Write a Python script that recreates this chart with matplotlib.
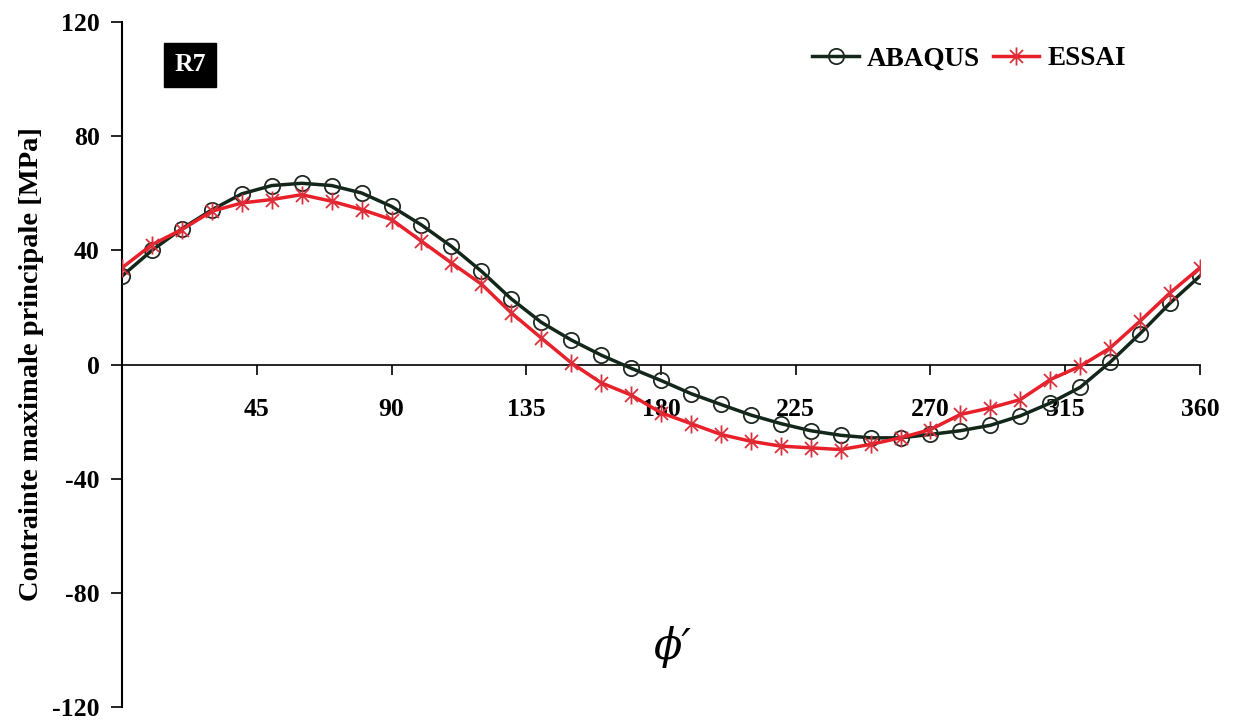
import matplotlib.pyplot as plt
import numpy as np
from matplotlib.path import Path

plt.rcParams['font.family'] = ['Liberation Serif', 'DejaVu Serif']
plt.rcParams['font.weight'] = 'bold'
plt.rcParams['mathtext.fontset'] = 'stix'
plt.rcParams['axes.unicode_minus'] = False

# angle phi' (degrees)
phi = np.arange(0, 361, 10)

# ABAQUS
abaqus = [31.0, 40.0, 47.6, 54.2, 59.8, 62.7, 63.5, 62.7, 60.1, 55.4,
          48.9, 41.4, 32.7, 23.0, 14.8, 8.6, 3.3, -1.3, -5.6, -10.2,
          -14.0, -17.7, -20.7, -23.2, -24.8, -25.7, -25.7, -24.5, -23.2, -21.3,
          -18.0, -13.5, -8.0, 0.8, 10.8, 21.5, 31.0]
# ESSAI
essai = [33.9, 42.0, 47.3, 53.7, 56.6, 57.8, 59.5, 57.2, 54.3, 50.8,
         43.2, 35.6, 28.2, 18.1, 9.3, 0.6, -6.4, -10.7, -16.9, -20.7,
         -24.5, -26.9, -28.6, -29.2, -29.8, -28.0, -25.7, -22.8, -17.5, -15.2,
         -12.3, -5.3, -0.6, 5.8, 15.2, 25.1, 33.9]

xticks = [45, 90, 135, 180, 225, 270, 315, 360]
yticks = [-120, -80, -40, 0, 40, 80, 120]

# asterisk marker like Excel's star (vertical bar + X)
star = Path([(0, -1), (0, 1), (-0.72, -0.72), (0.72, 0.72), (-0.72, 0.72), (0.72, -0.72)],
            [Path.MOVETO, Path.LINETO, Path.MOVETO, Path.LINETO, Path.MOVETO, Path.LINETO])

fig = plt.figure(figsize=(12.34, 7.22), dpi=100)
ax = fig.add_axes([0.0989, 0.0208, 0.8735, 0.9487])

ax.plot(phi, abaqus, color='#13261a', lw=2.5, marker='o', ms=11, mfc='none',
        mec='#1f2a22', mew=1.3, label='ABAQUS', zorder=3)
ax.plot(phi, essai, color='#e8202a', lw=2.5, marker=star, ms=13, mfc='none',
        mec='#d9303c', mew=1.3, label='ESSAI', zorder=4)

ax.set_xlim(0, 360)
ax.set_ylim(-120, 120)
ax.spines['top'].set_visible(False)
ax.spines['right'].set_visible(False)
ax.spines['bottom'].set_position(('data', 0))
ax.spines['left'].set_linewidth(1.5)
ax.spines['bottom'].set_linewidth(1.2)

ax.set_xticks(xticks)
ax.set_yticks(yticks)
ax.tick_params(axis='x', direction='out', length=7, width=1.2, pad=17, labelsize=18.5)
ax.tick_params(axis='y', direction='out', length=8, width=1.2, pad=8, labelsize=18.5)

ax.set_ylabel('Contrainte maximale principale [MPa]', fontsize=20.5, fontweight='bold', labelpad=6)

ax.text(184, -99, 'ϕ′', fontsize=30, style='italic', fontweight='normal',
        family=['DejaVu Serif'], ha='center', va='center')

ax.text(22.7, 105, 'R7', fontsize=18.5, fontweight='bold', color='white', ha='center', va='center',
        bbox=dict(boxstyle='square,pad=0.4', fc='black', ec='black'))

ax.legend(loc='upper right', bbox_to_anchor=(0.954, 1.0), ncol=2, frameon=False,
          prop={'size': 19.5, 'weight': 'bold'}, handlelength=1.7, columnspacing=0.5,
          handletextpad=0.3)

fig.savefig('out.png', dpi=100)
